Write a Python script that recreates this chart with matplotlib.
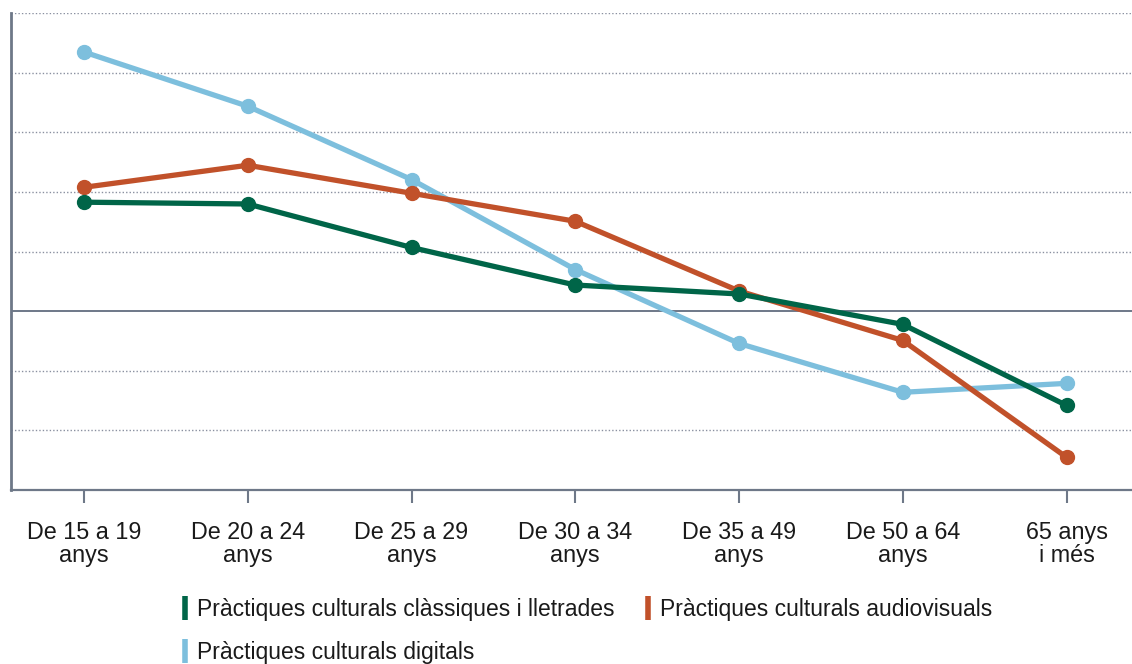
import matplotlib.pyplot as plt
from matplotlib.lines import Line2D

plt.rcParams['font.family'] = ['Liberation Sans', 'DejaVu Sans']

categories = ["De 15 a 19\nanys", "De 20 a 24\nanys", "De 25 a 29\nanys", "De 30 a 34\nanys",
              "De 35 a 49\nanys", "De 50 a 64\nanys", "65 anys\ni més"]
classiques = [1.83, 1.80, 1.07, 0.44, 0.29, -0.22, -1.58]
audiovisuals = [2.08, 2.45, 1.98, 1.51, 0.34, -0.49, -2.45]
digitals = [4.35, 3.44, 2.21, 0.70, -0.54, -1.36, -1.21]

names = ["Pràctiques culturals clàssiques i lletrades",
         "Pràctiques culturals audiovisuals",
         "Pràctiques culturals digitals"]
colors = ["#006548", "#c1512a", "#7dbfdd"]
axis_col = "#6e7888"

fig = plt.figure(figsize=(11.32, 6.64), dpi=100)
ax = fig.add_axes([0.0097, 0.262, 0.9903, 0.718])

x = list(range(len(categories)))
for vals, c in zip([digitals, audiovisuals, classiques], [colors[2], colors[1], colors[0]]):
    ax.plot(x, vals, color=c, lw=3.8, marker='o', ms=10, solid_capstyle='round', zorder=3)

ax.set_ylim(-3, 5)
ax.set_xlim(-0.446, 6.40)
for yv in [-2, -1, 1, 2, 3, 4, 5]:
    ax.axhline(yv, color="#8a90a0", lw=1.0, ls=(0, (1, 1.5)), zorder=1)
ax.axhline(0, color=axis_col, lw=1.4, zorder=2)

for s in ['top', 'right']:
    ax.spines[s].set_visible(False)
ax.spines['left'].set_color(axis_col)
ax.spines['left'].set_linewidth(2)
ax.spines['bottom'].set_color(axis_col)
ax.spines['bottom'].set_linewidth(1.6)
ax.set_yticks([])
ax.set_xticks(x)
ax.set_xticklabels(categories, fontsize=16.8, linespacing=1.02, color="#1a1a1a")
ax.tick_params(axis='x', length=9, width=1.5, color=axis_col, pad=13)

handles = [Line2D([], [], color=colors[0], marker='|', ls='none', ms=17, mew=4),
           Line2D([], [], color=colors[2], marker='|', ls='none', ms=17, mew=4),
           Line2D([], [], color=colors[1], marker='|', ls='none', ms=17, mew=4)]
labels = [names[0], names[2], names[1]]
fig.legend(handles, labels, ncol=2, loc='upper left', bbox_to_anchor=(0.142, 0.13),
           frameon=False, fontsize=16.5, handlelength=0.35, handletextpad=0.35,
           columnspacing=1.25, labelspacing=0.85, labelcolor="#1a1a1a")

fig.savefig("out.png", dpi=100)
plt.close(fig)
